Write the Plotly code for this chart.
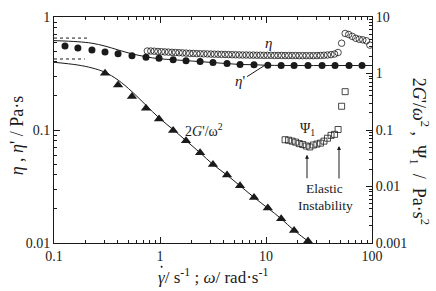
import plotly.graph_objects as go

# ---------------- data ----------------
# eta' (filled circles), left axis
eta_p_x = [0.127, 0.168, 0.228, 0.303, 0.402, 0.544, 0.738, 0.979, 1.33, 1.76, 2.39, 3.16,
           4.29, 5.69, 7.71, 10.4, 13.9, 18.4, 24.9, 33.8, 44.8, 60.7, 80.5]
eta_p_y = [0.553, 0.531, 0.511, 0.491, 0.472, 0.454, 0.440, 0.432, 0.419, 0.411, 0.403, 0.395,
           0.387, 0.380, 0.378, 0.374, 0.372, 0.372, 0.372, 0.372, 0.372, 0.372, 0.372]

# eta' fit line, left axis
eta_fit_x = [0.1, 0.168, 0.228, 0.303, 0.402, 0.544, 0.738, 0.979, 1.33, 1.76, 2.39, 3.16,
             4.29, 5.69, 7.71, 10.4, 20.0, 40.0, 100.0]
eta_fit_y = [0.618, 0.604, 0.586, 0.553, 0.511, 0.472, 0.445, 0.427, 0.419, 0.411, 0.403, 0.395,
             0.387, 0.380, 0.378, 0.374, 0.372, 0.372, 0.372]

# eta (open circles), left axis
eta_x = [0.759, 0.819, 0.884, 0.955, 1.031, 1.113, 1.202, 1.298, 1.402, 1.514, 1.634, 1.765,
         1.905, 2.057, 2.222, 2.399, 2.590, 2.797, 3.020, 3.261, 3.522, 3.802, 4.106, 4.434,
         4.786, 5.168, 5.581, 6.026, 6.506, 7.026, 7.586, 8.190, 8.845, 9.550, 10.31, 11.13,
         12.02, 12.98, 14.02, 15.14, 16.34, 17.65, 19.05, 20.57, 22.22, 23.99, 25.90, 27.97,
         30.20, 32.61, 35.22, 38.02, 41.06, 44.34, 47.86, 51.68, 55.81, 60.26, 65.06, 70.26,
         75.86, 81.90, 88.45, 95.50]
eta_y = [0.500, 0.500, 0.498, 0.495, 0.493, 0.491, 0.489, 0.487, 0.485, 0.483, 0.481, 0.479,
         0.477, 0.476, 0.474, 0.473, 0.472, 0.471, 0.470, 0.469, 0.468, 0.467, 0.466, 0.465,
         0.464, 0.463, 0.462, 0.461, 0.461, 0.460, 0.460, 0.459, 0.459, 0.458, 0.458, 0.458,
         0.457, 0.457, 0.457, 0.456, 0.456, 0.456, 0.456, 0.455, 0.455, 0.455, 0.455, 0.455,
         0.456, 0.457, 0.459, 0.461, 0.464, 0.470, 0.485, 0.586, 0.715, 0.700, 0.674, 0.648,
         0.635, 0.628, 0.616, 0.564]

# 2G'/omega^2 (filled triangles), right axis
g_x = [0.303, 0.402, 0.544, 0.738, 0.979, 1.33, 1.76, 2.39, 3.16, 4.29, 5.69, 7.71,
       10.4, 13.9, 18.4, 24.9]
g_y = [1.01, 0.628, 0.391, 0.243, 0.157, 0.098, 0.0647, 0.0395, 0.0246, 0.0159, 0.0103, 0.0064,
       0.00415, 0.00269, 0.00167, 0.00108]

# 2G'/omega^2 fit line, right axis
g_fit_x = [0.1, 0.168, 0.228, 0.303, 0.402, 0.544, 0.738, 0.979, 1.33, 1.76, 2.39, 3.16,
           4.29, 5.69, 7.71, 10.4, 13.9, 18.4, 24.9, 28.0]
g_fit_y = [1.579, 1.413, 1.255, 1.051, 0.766, 0.477, 0.274, 0.164, 0.102, 0.0648, 0.0395, 0.0246,
           0.0159, 0.0103, 0.0064, 0.00415, 0.00269, 0.00167, 0.00108, 0.00091]

# Psi_1 (open squares), right axis
psi_x = [15.14, 16.34, 17.65, 19.05, 20.57, 22.22, 23.99, 25.90, 27.97, 30.20, 32.61, 35.22,
         38.02, 41.06, 44.34, 47.86, 51.68, 55.81]
psi_y = [0.0673, 0.0660, 0.0635, 0.0610, 0.0575, 0.0553, 0.0521, 0.0501, 0.0542, 0.0564, 0.0586,
         0.0635, 0.0715, 0.0804, 0.0837, 0.102, 0.263, 0.477]

# short dotted limit lines, left axis
dot_hi_x = [0.1, 0.205]
dot_hi_y = [0.651, 0.651]
dot_lo_x = [0.1, 0.195]
dot_lo_y = [0.425, 0.425]

x_ticks = [0.1, 1, 10, 100]
x_ticktext = ["0.1", "1", "10", "100"]
yl_ticks = [0.01, 0.1, 1]
yl_ticktext = ["0.01", "0.1", "1"]
yr_ticks = [0.001, 0.01, 0.1, 1, 10]
yr_ticktext = ["0.001", "0.01", "0.1", "1", "10"]

# ---------------- figure ----------------
INK = "#1a1a1a"
FONT = "Liberation Serif"

def minors(lo_exp, hi_exp):
    out = []
    for e in range(lo_exp, hi_exp):
        for m in range(2, 10):
            out.append(m * 10.0 ** e)
    return out

fig = go.Figure()

fig.add_trace(go.Scatter(x=eta_fit_x, y=eta_fit_y, mode="lines", line=dict(color=INK, width=1, shape="spline"),
                         yaxis="y", showlegend=False))
fig.add_trace(go.Scatter(x=dot_hi_x, y=dot_hi_y, mode="lines", line=dict(color=INK, width=1, dash="dot"),
                         yaxis="y", showlegend=False))
fig.add_trace(go.Scatter(x=dot_lo_x, y=dot_lo_y, mode="lines", line=dict(color=INK, width=1, dash="dot"),
                         yaxis="y", showlegend=False))
fig.add_trace(go.Scatter(x=eta_p_x, y=eta_p_y, mode="markers",
                         marker=dict(symbol="circle", size=7, color=INK, line=dict(width=0)),
                         yaxis="y", showlegend=False))
fig.add_trace(go.Scatter(x=eta_x, y=eta_y, mode="markers",
                         marker=dict(symbol="circle-open", size=6.5, color=INK, line=dict(width=0.8)),
                         yaxis="y", showlegend=False))
fig.add_trace(go.Scatter(x=g_fit_x, y=g_fit_y, mode="lines", line=dict(color=INK, width=1, shape="spline"),
                         yaxis="y2", showlegend=False))
fig.add_trace(go.Scatter(x=g_x, y=g_y, mode="markers",
                         marker=dict(symbol="triangle-up", size=9, color=INK, line=dict(width=0)),
                         yaxis="y2", showlegend=False))
fig.add_trace(go.Scatter(x=psi_x, y=psi_y, mode="markers",
                         marker=dict(symbol="square-open", size=6, color=INK, line=dict(width=0.8)),
                         yaxis="y2", showlegend=False))

W, H = 436, 291
L, R, T, B = 54, 64, 10, 48
PW, PH = W - L - R, H - T - B

def px(xp):
    return (xp - L) / PW

def py(yp):
    return (H - B - yp) / PH

axis_common = dict(type="log", showline=True, linecolor=INK, linewidth=1, ticks="inside",
                   ticklen=6, tickwidth=1, tickcolor=INK, showgrid=False, zeroline=False,
                   tickfont=dict(family=FONT, size=14, color=INK))

fig.update_layout(
    width=W, height=H, margin=dict(l=L, r=R, t=T, b=B),
    paper_bgcolor="white", plot_bgcolor="white",
    font=dict(family=FONT, color=INK),
    xaxis=dict(axis_common, range=[-1, 2], tickmode="array", tickvals=x_ticks, ticktext=x_ticktext,
               mirror="ticks",
               minor=dict(ticks="inside", ticklen=3, tickwidth=1, tickcolor=INK, tickmode="array",
                          tickvals=minors(-1, 2), showgrid=False)),
    yaxis=dict(axis_common, range=[-2, 0], tickmode="array", tickvals=yl_ticks, ticktext=yl_ticktext,
               minor=dict(ticks="inside", ticklen=3, tickwidth=1, tickcolor=INK, tickmode="array",
                          tickvals=minors(-2, 0), showgrid=False)),
    yaxis2=dict(axis_common, range=[-3, 1], tickmode="array", tickvals=yr_ticks, ticktext=yr_ticktext,
                overlaying="y", side="right",
                minor=dict(ticks="inside", ticklen=3, tickwidth=1, tickcolor=INK, tickmode="array",
                           tickvals=minors(-3, 1), showgrid=False)),
)

ann = []
def label(text, xp, yp, size=14, angle=0, xanchor="center"):
    ann.append(dict(text=text, x=px(xp), y=py(yp), xref="paper", yref="paper", showarrow=False,
                    xanchor=xanchor, yanchor="middle", textangle=angle,
                    font=dict(family=FONT, size=size, color=INK)))

label("<i>η</i>", 268, 37, 15)
label("<i>η</i>'", 240, 76, 15)
label("2<i>G</i>'/ω<sup>2</sup>", 204, 127, 14)
label("Ψ<sub>1</sub>", 307, 126, 14)
label("Elastic", 324, 187, 13.5)
label("Instability", 325, 204, 13.5)
label("<i>η</i> , <i>η</i>' / Pa·s", 17, 132, 18, -90)
label("2<i>G</i>'/<i>ω</i><sup>2</sup> ,  Ψ<sub>1</sub>  /  Pa·s<sup>2</sup>", 419, 148, 18, 90)
label("<i>γ</i>/ s<sup>-1</sup> ; <i>ω</i>/ rad·s<sup>-1</sup>", 156, 277, 17, 0, "left")

for xa, ytop in [(307, 152), (339, 143)]:
    ann.append(dict(text="", x=px(xa), y=py(ytop), xref="paper", yref="paper", showarrow=True,
                    ax=0, ay=177 - ytop, arrowhead=2, arrowsize=0.8, arrowwidth=1, arrowcolor=INK))

fig.update_layout(annotations=ann)

# leader line from the eta' label to its curve
fig.add_shape(type="line", xref="paper", yref="paper", x0=px(247), y0=py(71.5), x1=px(266), y1=py(59),
              line=dict(color=INK, width=1))
# dot accent over gamma (gamma-dot)
fig.add_shape(type="circle", xref="paper", yref="paper", x0=px(160.6), x1=px(162.6), y0=py(266.4), y1=py(268.4),
              fillcolor=INK, line=dict(width=0))

fig.write_html("out.html")
